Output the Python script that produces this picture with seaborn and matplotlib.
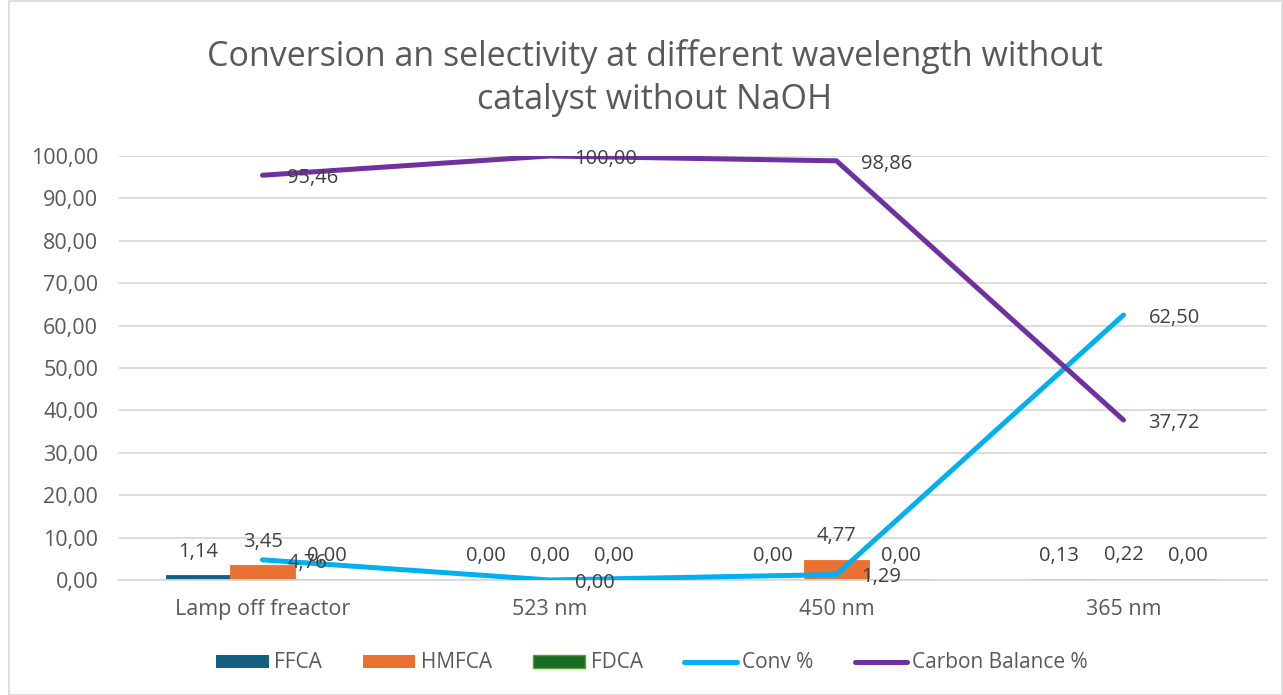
import matplotlib
matplotlib.use("Agg")
import matplotlib.pyplot as plt
import seaborn as sns
import pandas as pd
import numpy as np
from matplotlib.patches import Patch, Rectangle
from matplotlib.lines import Line2D

categories = ["Lamp off freactor", "523 nm", "450 nm", "365 nm"]
ffca = [1.14, 0.00, 0.00, 0.13]
hmfca = [3.45, 0.00, 4.77, 0.22]
fdca = [0.00, 0.00, 0.00, 0.00]
conv = [4.76, 0.00, 1.29, 62.50]
carbon = [95.46, 100.00, 98.86, 37.72]
yticks = [0, 10, 20, 30, 40, 50, 60, 70, 80, 90, 100]

bar_names = ["FFCA", "HMFCA", "FDCA"]
bar_colors = {"FFCA": "#156082", "HMFCA": "#E97132", "FDCA": "#196B24"}
line_colors = {"Conv %": "#00B0F0", "Carbon Balance %": "#7030A0"}
TXT = "#595959"
LBL = "#404040"
GRID = "#D9D9D9"
FONT = ["Open Sans", "DejaVu Sans"]

sns.set_theme(style="white")
plt.rcParams["font.family"] = FONT

bars_df = pd.DataFrame({
    "cat": categories * 3,
    "series": ["FFCA"] * 4 + ["HMFCA"] * 4 + ["FDCA"] * 4,
    "value": ffca + hmfca + fdca,
})
lines_df = pd.DataFrame({
    "cat": categories * 2,
    "series": ["Conv %"] * 4 + ["Carbon Balance %"] * 4,
    "value": conv + carbon,
})

fig = plt.figure(figsize=(12.83, 6.95), dpi=100)
ax = fig.add_axes([119 / 1283, 1 - 580 / 695, (1267 - 119) / 1283, (580 - 156) / 695])

sns.barplot(data=bars_df, x="cat", y="value", hue="series", order=categories,
            hue_order=bar_names, palette=bar_colors, width=0.67, gap=0,
            errorbar=None, legend=False, ax=ax, saturation=1, zorder=2)
for cont, name in zip(ax.containers, bar_names):
    for p in cont:
        if name == "FDCA":
            p.set_edgecolor("#4EA72E")
            p.set_linewidth(1.2)
        else:
            # keep very small bars visible as thin strokes
            p.set_edgecolor(bar_colors[name])
            p.set_linewidth(0.6)

sns.pointplot(data=lines_df, x="cat", y="value", hue="series", order=categories,
              hue_order=["Conv %", "Carbon Balance %"], palette=line_colors,
              markers="", errorbar=None, legend=False, ax=ax, linewidth=3.6,
              dodge=False)
for ln in ax.lines:
    ln.set_solid_capstyle("round")
    ln.set_solid_joinstyle("round")
    ln.set_zorder(3)

ax.set_xlim(-0.5, 3.5)
ax.set_ylim(0, 100)
ax.set_yticks(yticks)
ax.set_yticklabels([f"{v:.2f}".replace(".", ",") for v in yticks])
ax.set_xlabel("")
ax.set_ylabel("")
ax.grid(axis="y", color=GRID, linewidth=1.3, zorder=0)
ax.set_axisbelow(True)
for s in ["top", "right", "left"]:
    ax.spines[s].set_visible(False)
ax.spines["bottom"].set_color(GRID)
ax.spines["bottom"].set_linewidth(1.3)
ax.tick_params(axis="y", length=0, pad=15, labelsize=15.5, labelcolor=TXT)
ax.tick_params(axis="x", length=0, pad=14, labelsize=15.5, labelcolor=TXT)

def fmt(v):
    return f"{v:.2f}".replace(".", ",")

for cont, name in zip(ax.containers, bar_names):
    vals = {"FFCA": ffca, "HMFCA": hmfca, "FDCA": fdca}[name]
    for p, v in zip(cont, vals):
        x = p.get_x() + p.get_width() / 2
        ax.annotate(fmt(v), (x, p.get_height()), xytext=(0, 17), textcoords="offset points",
                    ha="center", va="center", fontsize=14.5, color=LBL, zorder=5)

for series in [conv, carbon]:
    for i, v in enumerate(series):
        ax.annotate(fmt(v), (i, v), xytext=(18, -2), textcoords="offset points",
                    ha="left", va="center", fontsize=14.5, color=LBL, zorder=5)

fig.text(655 / 1283, 1 - 78 / 695,
         "Conversion an selectivity at different wavelength without\ncatalyst without NaOH",
         ha="center", va="center", fontsize=24.5, color=TXT, linespacing=1.35)

handles = [
    Patch(facecolor=bar_colors["FFCA"], edgecolor="none", label="FFCA"),
    Patch(facecolor=bar_colors["HMFCA"], edgecolor="none", label="HMFCA"),
    Patch(facecolor=bar_colors["FDCA"], edgecolor="#4EA72E", label="FDCA"),
    Line2D([0], [0], color=line_colors["Conv %"], lw=3.6, solid_capstyle="round", label="Conv %"),
    Line2D([0], [0], color=line_colors["Carbon Balance %"], lw=3.6, solid_capstyle="round", label="Carbon Balance %"),
]
fig.legend(handles=handles, loc="center", bbox_to_anchor=(652 / 1283, 1 - 663 / 695),
           ncol=5, frameon=False, fontsize=15, labelcolor=TXT, handlelength=2.5,
           handleheight=0.6, handletextpad=0.25, columnspacing=2.0)

fig.patches.append(Rectangle((9 / 1283, 0), 1 - 9 / 1283 - 0.0005, 1 - 1 / 695,
                             transform=fig.transFigure, fill=False, edgecolor=GRID,
                             linewidth=1.2))

fig.savefig("out.png", dpi=100)
